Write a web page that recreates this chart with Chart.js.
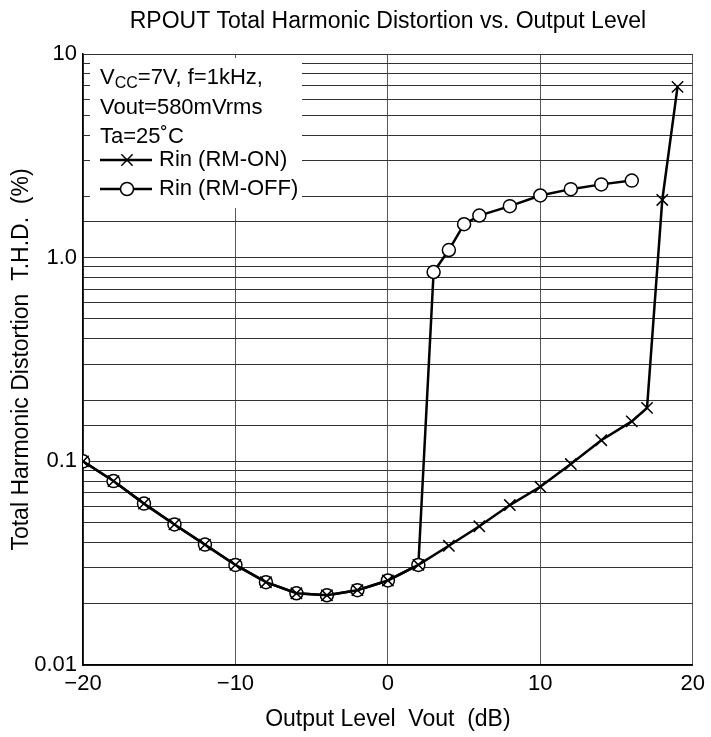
<!DOCTYPE html>
<html>
<head>
<meta charset="utf-8">
<script src="https://cdn.jsdelivr.net/npm/chart.js@4/dist/chart.umd.min.js"></script>
<style>
  body { margin: 0; background: #fff; }
  canvas { display: block; }
</style>
</head>
<body>
<canvas id="thd" width="711" height="737"></canvas>
<script>
// RPOUT THD vs output level
const rmOnLevel = [-20, -18, -16, -14, -12, -10, -8, -6, -4, -2, 0, 2, 4, 6, 8, 10, 12, 14, 16, 17, 18, 19];
const rmOnThd = [0.1, 0.08, 0.062, 0.049, 0.039, 0.031, 0.0255, 0.0225, 0.022, 0.0233, 0.026, 0.031,
                 0.0385, 0.048, 0.061, 0.075, 0.097, 0.127, 0.157, 0.183, 1.92, 6.9];

const rmOffLevel = [-20, -18, -16, -14, -12, -10, -8, -6, -4, -2, 0, 2, 3, 4, 5, 6, 8, 10, 12, 14, 16];
const rmOffThd = [0.1, 0.08, 0.062, 0.049, 0.039, 0.031, 0.0255, 0.0225, 0.022, 0.0233, 0.026, 0.031,
                  0.85, 1.09, 1.46, 1.61, 1.79, 2.02, 2.17, 2.29, 2.39];

const xTicks = [-20, -10, 0, 10, 20];
const yLabels = { 10: '10', 1: '1.0', 0.1: '0.1', 0.01: '0.01' };

const FONT = "'Liberation Sans', Arial, sans-serif";
const TITLE = 'RPOUT Total Harmonic Distortion vs. Output Level';

const toPoints = (xs, ys) => xs.map((x, i) => ({ x: x, y: ys[i] }));

// title centred over the plot area, plus the condition/legend box
const notePlugin = {
  id: 'note',
  afterDraw(chart) {
    const ctx = chart.ctx;
    const a = chart.chartArea;
    ctx.save();
    ctx.fillStyle = '#000';
    ctx.textAlign = 'center';
    ctx.textBaseline = 'middle';
    ctx.font = '23px ' + FONT;
    ctx.fillText(TITLE, (a.left + a.right) / 2, 22);
    ctx.restore();
  },
  beforeDatasetsDraw(chart) {
    const ctx = chart.ctx;
    ctx.save();
    ctx.fillStyle = '#fff';
    ctx.fillRect(90, 58, 212, 150);
    ctx.fillStyle = '#000';
    ctx.textBaseline = 'middle';
    ctx.font = '22px ' + FONT;
    ctx.fillText('V', 100, 78);
    let w = ctx.measureText('V').width;
    ctx.font = '16px ' + FONT;
    ctx.fillText('CC', 100 + w, 84);
    w += ctx.measureText('CC').width;
    ctx.font = '22px ' + FONT;
    ctx.fillText('=7V, f=1kHz,', 100 + w, 78);
    ctx.fillText('Vout=580mVrms', 100, 108);
    ctx.fillText('Ta=25˚C', 100, 137);
    ctx.fillText('Rin (RM-ON)', 159, 160);
    ctx.fillText('Rin (RM-OFF)', 159, 189);

    ctx.strokeStyle = '#000';
    ctx.lineWidth = 2.5;
    ctx.beginPath();
    ctx.moveTo(100, 160); ctx.lineTo(152, 160);
    ctx.moveTo(100, 189); ctx.lineTo(152, 189);
    ctx.stroke();
    ctx.lineWidth = 1.5;
    Chart.helpers.drawPoint(ctx, { pointStyle: 'crossRot', radius: 8, borderWidth: 1.5 }, 127, 160);
    ctx.fillStyle = '#fff';
    Chart.helpers.drawPoint(ctx, { pointStyle: 'circle', radius: 6.5, borderWidth: 1.5 }, 127, 189);
    ctx.restore();
  }
};

new Chart(document.getElementById('thd'), {
  type: 'line',
  data: {
    datasets: [{
      label: 'Rin (RM-ON)',
      data: toPoints(rmOnLevel, rmOnThd),
      borderColor: '#000',
      borderWidth: 2.5,
      pointStyle: 'crossRot',
      pointRadius: 8,
      pointBorderWidth: 1.5,
      pointBorderColor: '#000',
      pointBackgroundColor: '#000',
      tension: 0
    }, {
      label: 'Rin (RM-OFF)',
      data: toPoints(rmOffLevel, rmOffThd),
      borderColor: '#000',
      borderWidth: 2.5,
      pointStyle: 'circle',
      pointRadius: 6.5,
      pointBorderWidth: 1.5,
      pointBorderColor: '#000',
      pointBackgroundColor: '#fff',
      tension: 0
    }]
  },
  options: {
    responsive: false,
    animation: false,
    layout: { padding: { left: 0, right: 18, top: 54, bottom: 0 } },
    plugins: {
      legend: { display: false },
      tooltip: { enabled: false },
      title: { display: false }
    },
    scales: {
      x: {
        type: 'linear',
        min: -20,
        max: 20,
        afterBuildTicks: s => { s.ticks = xTicks.map(v => ({ value: v })); },
        afterFit: s => { s.height = 72; },
        border: { color: '#000', width: 1.5 },
        grid: { color: '#555', lineWidth: 1, drawTicks: false },
        ticks: {
          color: '#000',
          padding: 6,
          font: { family: FONT, size: 22 },
          maxRotation: 0,
          callback: v => (v < 0 ? '\u2212' + Math.abs(v) : String(v))
        },
        title: {
          display: true,
          text: 'Output Level  Vout  (dB)',
          color: '#000',
          font: { family: FONT, size: 23 },
          padding: { top: 0, bottom: 4 }
        }
      },
      y: {
        type: 'logarithmic',
        min: 0.01,
        max: 10,
        afterFit: s => { s.width = 83; },
        border: { color: '#000', width: 1.5 },
        grid: { color: '#333', lineWidth: 1, drawTicks: false },
        ticks: {
          color: '#000',
          padding: 6,
          autoSkip: false,
          font: { family: FONT, size: 22 },
          callback: v => {
            const k = Object.keys(yLabels).find(key => Math.abs(Number(key) - v) < v * 1e-6);
            return k !== undefined ? yLabels[k] : '';
          }
        },
        title: {
          display: true,
          text: 'Total Harmonic Distortion  T.H.D.  (%)',
          color: '#000',
          font: { family: FONT, size: 23 },
          padding: { top: 8, bottom: 0 }
        }
      }
    }
  },
  plugins: [notePlugin]
});
</script>
</body>
</html>
